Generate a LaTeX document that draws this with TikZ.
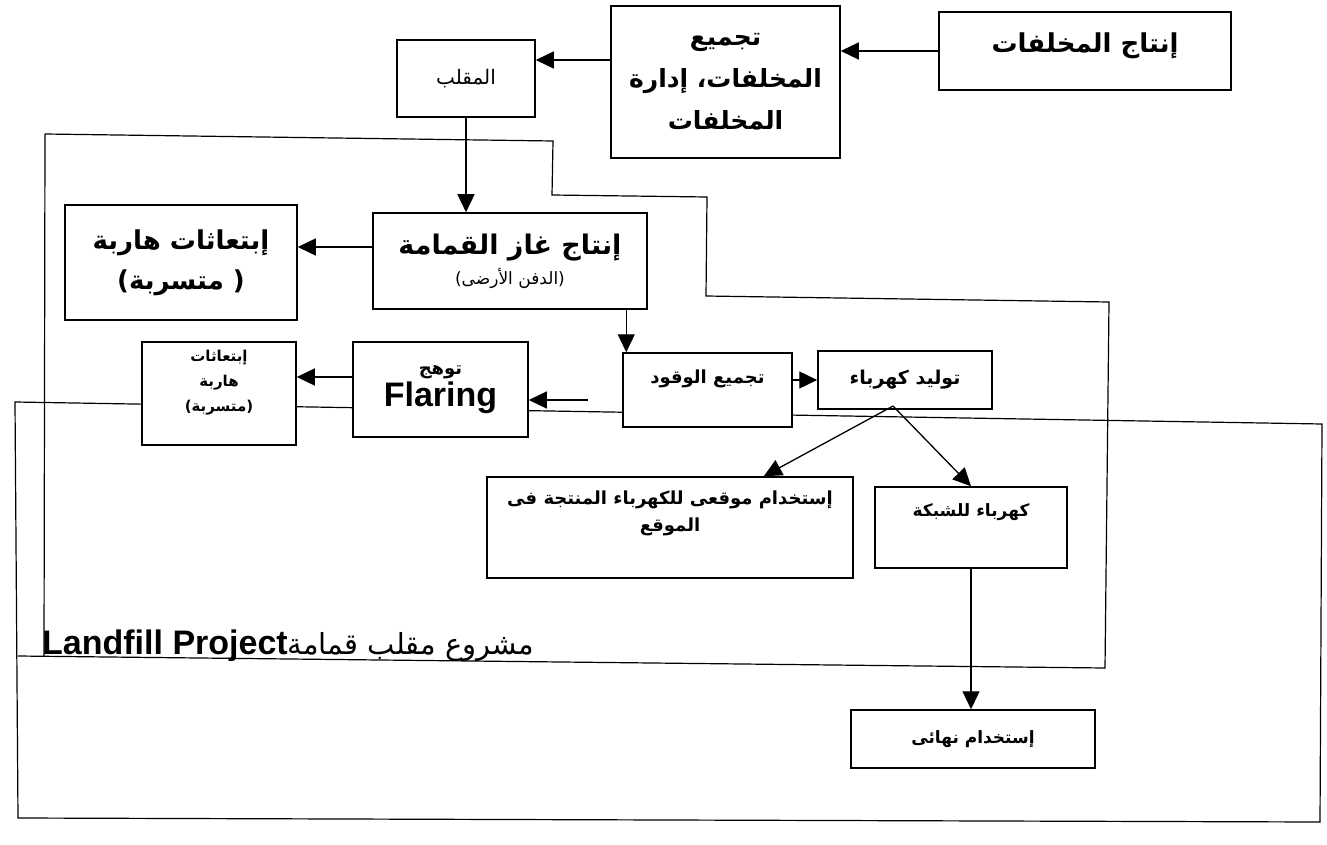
\documentclass[tikz,border=0pt]{standalone}
\usepackage{fontspec}
\usetikzlibrary{arrows.meta,calc}
\TeXXeTstate=1
\newfontfamily\arabicfont[Script=Arabic]{DejaVu Sans}
\newfontfamily\latinfont{Liberation Sans}
\newcommand{\rl}[1]{\beginR #1\endR}
\newcommand{\fs}[2]{\fontsize{#1}{#2}\selectfont}
\tikzset{
  box/.style={draw, line width=1.5pt, fill=white, inner sep=2pt, align=center},
  arr/.style={line width=1.3pt, -{Triangle[length=18pt,width=17pt]}},
  frameline/.style={line width=1.2pt},
}
\begin{document}
\begin{tikzpicture}[x=1pt,y=-1pt]
\useasboundingbox (0,0) rectangle (1327,845);
% project frame (upper)
\draw[frameline] (45,134) -- (553,141) -- (552,195) -- (707,197) -- (706,296) -- (1109,302) -- (1105,668) -- (18,656);
\draw[frameline] (45,134) -- (44,656);
% lower frame
\draw[frameline] (15,402) -- (1322,424) -- (1320,822) -- (18,818) -- cycle;

\node[box, minimum width=292pt, minimum height=78pt, text depth=16pt, font={\arabicfont\bfseries\fs{26}{30}}] (prod) at (1085,51) {\rl{إنتاج المخلفات}};
\node[box, minimum width=229pt, minimum height=152pt, font={\arabicfont\bfseries\fs{25}{42}}] (coll) at (725.5,82) {\rl{تجميع}\\\rl{المخلفات، إدارة}\\\rl{المخلفات}};
\node[box, minimum width=138pt, minimum height=77pt, font={\arabicfont\fs{20}{24}}] (land) at (466,78.5) {\rl{المقلب}};
\node[box, minimum width=232pt, minimum height=115pt, font={\arabicfont\bfseries\fs{26}{40}}] (emis1) at (181,262.5) {\rl{إبتعاثات هاربة}\\\rl{( متسربة)}};
\node[box, minimum width=274pt, minimum height=96pt, font={\arabicfont\bfseries\fs{27}{32}}] (gas) at (510,261) {\rl{إنتاج غاز القمامة}\\[-2pt]{\mdseries\fs{17}{20}\rl{(الدفن الأرضى)}}};
\node[box, minimum width=154pt, minimum height=103pt, text depth=26pt, font={\arabicfont\bfseries\fs{15}{25}}] (emis2) at (219,393.5) {\rl{إبتعاثات}\\\rl{هاربة}\\\rl{(متسربة)}};
\node[box, minimum width=175pt, minimum height=95pt, font={\arabicfont\bfseries\fs{18}{22}}] (flare) at (440.5,389.5) {\rl{توهج}\\[2pt]{\latinfont\bfseries\fs{34}{36}Flaring}};
\node[box, minimum width=169pt, minimum height=74pt, text depth=26pt, font={\arabicfont\bfseries\fs{18}{22}}] (fuel) at (707.5,390) {\rl{تجميع الوقود}};
\node[box, minimum width=174pt, minimum height=58pt, font={\arabicfont\bfseries\fs{19}{22}}] (gen) at (905,380) {\rl{توليد كهرباء}};
\node[box, minimum width=366pt, minimum height=101pt, text depth=32pt, font={\arabicfont\bfseries\fs{18}{27}}] (onsite) at (670,527.5) {\rl{إستخدام موقعى للكهرباء المنتجة فى}\\\rl{الموقع}};
\node[box, minimum width=192pt, minimum height=81pt, text depth=34pt, font={\arabicfont\bfseries\fs{17}{20}}] (grid) at (971,527.5) {\rl{كهرباء للشبكة}};
\node[box, minimum width=244pt, minimum height=58pt, font={\arabicfont\bfseries\fs{17}{20}}] (final) at (973,739) {\rl{إستخدام نهائى}};

\node[anchor=base west, inner sep=0pt] (proj) at (42,654) {\arabicfont\fs{29}{32}\beginR مشروع مقلب قمامة\beginL{\latinfont\bfseries\fs{34}{36}Landfill Project}\endL\endR};

% connectors
\draw[arr] (prod.west) -- (prod.west -| coll.east);
\coordinate (c1) at (0,60);
\draw[arr] (coll.west |- c1) -- (land.east |- c1);
\draw[arr] (land.south) -- (land.south |- gas.north);
\coordinate (c2) at (0,247);
\draw[arr] (gas.west |- c2) -- (emis1.east |- c2);
\coordinate (c3) at ($(fuel.north west)+(4,0)$);
\draw[arr] (c3 |- gas.south) -- (c3);
\draw[arr] (fuel.east |- gen.west) -- (gen.west);
\coordinate (fs) at (588,400);
\draw[arr] (fs) -- (flare.east |- fs);
\coordinate (c4) at (0,377);
\draw[arr] (flare.west |- c4) -- (emis2.east |- c4);
\coordinate (gs) at (893,406);
\draw[arr] (gs) -- ($(onsite.north east)+(-90,0)$);
\draw[arr] (gs) -- (grid.north);
\draw[arr] (grid.south) -- (grid.south |- final.north);
\end{tikzpicture}
\end{document}
